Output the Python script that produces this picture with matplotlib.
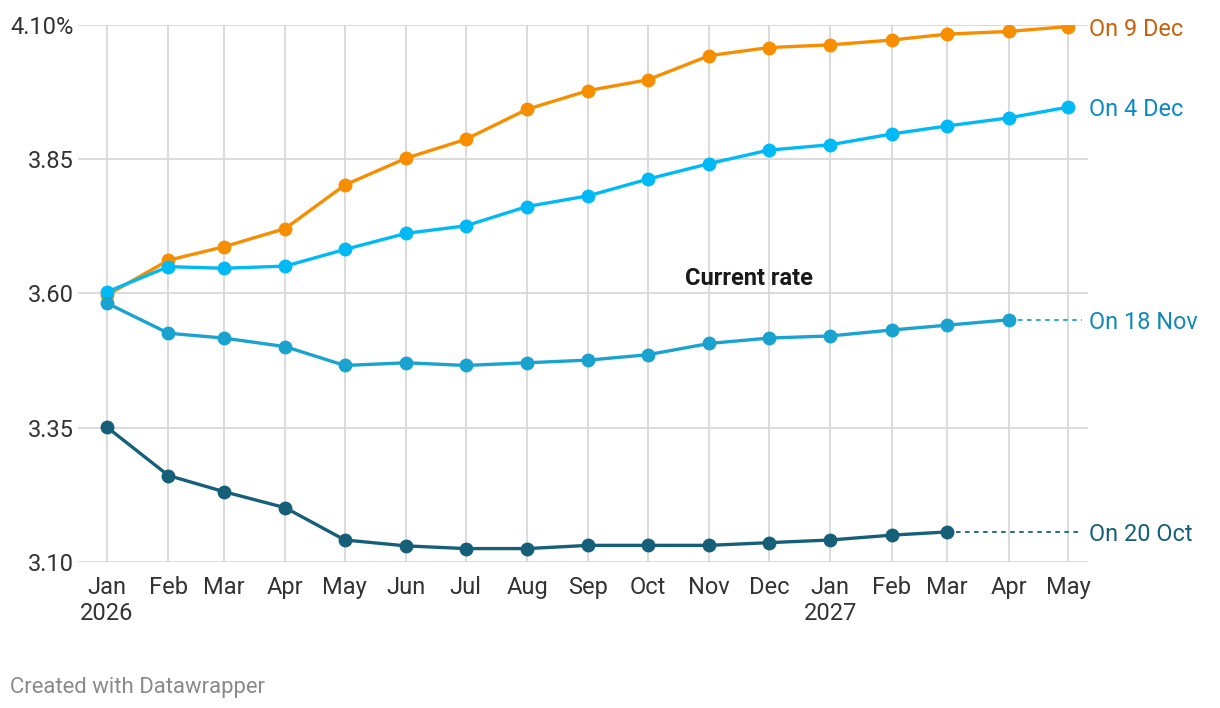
import matplotlib
matplotlib.use("Agg")
import matplotlib.pyplot as plt
import matplotlib.dates as mdates
import matplotlib.transforms as mtrans
import datetime as dt

plt.rcParams['font.family'] = ['Roboto', 'DejaVu Sans']

# ---- data ----
months = [dt.date(2026, m, 1) for m in range(1, 13)] + [dt.date(2027, m, 1) for m in range(1, 6)]
month_labels = ["Jan\n2026", "Feb", "Mar", "Apr", "May", "Jun", "Jul", "Aug", "Sep", "Oct",
                "Nov", "Dec", "Jan\n2027", "Feb", "Mar", "Apr", "May"]

on_9_dec = [3.597, 3.662, 3.687, 3.721, 3.802, 3.852, 3.887, 3.943, 3.978, 3.998,
            4.043, 4.058, 4.063, 4.072, 4.083, 4.088, 4.097]
on_4_dec = [3.603, 3.650, 3.647, 3.651, 3.682, 3.712, 3.726, 3.762, 3.782, 3.813,
            3.842, 3.867, 3.877, 3.897, 3.912, 3.927, 3.947]
on_18_nov = [3.582, 3.526, 3.517, 3.501, 3.466, 3.471, 3.466, 3.471, 3.476, 3.486,
             3.507, 3.517, 3.521, 3.532, 3.541, 3.551]
on_20_oct = [3.351, 3.261, 3.231, 3.201, 3.141, 3.130, 3.125, 3.125, 3.131, 3.131,
             3.131, 3.136, 3.141, 3.150, 3.156]

y_ticks = [3.10, 3.35, 3.60, 3.85, 4.10]
y_tick_labels = ["3.10", "3.35", "3.60", "3.85", "4.10%"]

series = [
    ("On 9 Dec", on_9_dec, "#f78e00", "#c8620a", False),
    ("On 4 Dec", on_4_dec, "#00b9f5", "#0a8ac4", False),
    ("On 18 Nov", on_18_nov, "#1aa3cf", "#1189b5", True),
    ("On 20 Oct", on_20_oct, "#156078", "#156078", True),
]

W, H = 1220, 708
fig = plt.figure(figsize=(W / 100, H / 100), dpi=100)
ax = fig.add_axes([78 / W, 1 - 562 / H, (1088 - 78) / W, (562 - 25) / H])

x_num = mdates.date2num(months)
px_per_day = (1068 - 107) / (x_num[-1] - x_num[0])
xmin = x_num[0] - (107 - 78) / px_per_day
xmax = x_num[-1] + (1088 - 1068) / px_per_day
ax.set_xlim(xmin, xmax)
ax.set_ylim(3.10, 4.10)

for s in ax.spines.values():
    s.set_visible(False)

ax.set_yticks(y_ticks)
ax.set_yticklabels(y_tick_labels)
ax.set_xticks(x_num)
ax.set_xticklabels(month_labels)
ax.tick_params(axis='both', length=0, labelsize=17, colors="#333333")
ax.tick_params(axis='y', pad=3)
ax.tick_params(axis='x', pad=10)
ax.grid(True, color="#d9d9d9", linewidth=1.3, zorder=0)
ax.set_axisbelow(True)

label_tr = mtrans.blended_transform_factory(ax.transAxes, ax.transData)
x_dot_end = xmax - 6 / px_per_day

for name, vals, col, lcol, dotted in series:
    xs = x_num[:len(vals)]
    ax.plot(xs, vals, color=col, linewidth=2.4, marker='o', markersize=10,
            markeredgewidth=0, zorder=3, solid_capstyle='round')
    if dotted:
        ax.plot([xs[-1], x_dot_end], [vals[-1], vals[-1]], color=col, linewidth=1.3,
                linestyle=(0, (2.5, 2.5)), zorder=2, clip_on=False)
    ax.text(1.0 + 1 / (1088 - 78), vals[-1], name, transform=label_tr, ha='left',
            va='center_baseline', fontsize=16.9, color=lcol, clip_on=False)

ax.text(0.664, 0.5326, "Current rate", transform=ax.transAxes, ha='center',
        va='center_baseline', fontsize=17, fontweight='bold', color="#1a1a1a")

fig.text(10 / W, 1 - 685 / H, "Created with Datawrapper", ha='left', va='center_baseline',
         fontsize=15.9, color="#8a8a8a")

fig.savefig("out.png", dpi=100)
